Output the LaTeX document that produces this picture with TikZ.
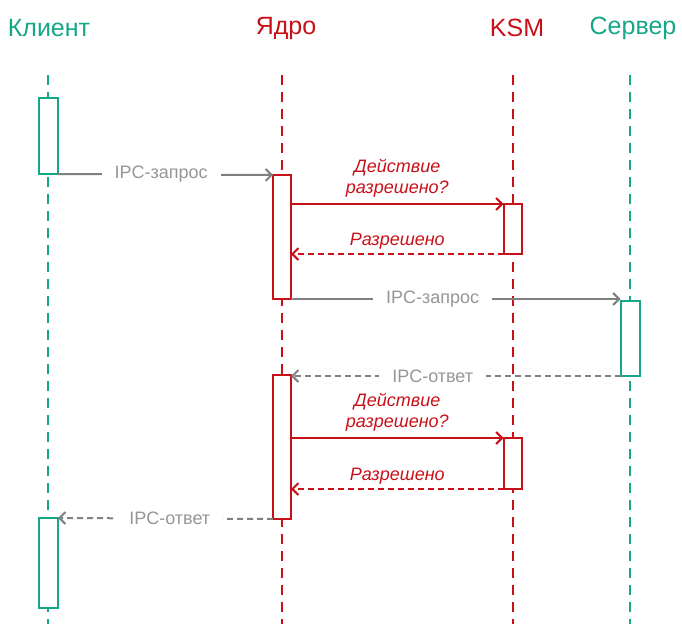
\documentclass[tikz,border=0pt]{standalone}
\usepackage{fontspec}
\setmainfont{Liberation Sans}
\usetikzlibrary{arrows.meta}
\definecolor{kteal}{RGB}{22,166,136}
\definecolor{kred}{RGB}{200,16,24}
\definecolor{kgray}{RGB}{128,128,128}
\definecolor{kltgray}{RGB}{150,150,150}
\begin{document}
\begin{tikzpicture}[x=1pt,y=-1pt,
  head/.style={font=\fontsize{25}{28}\selectfont, inner sep=0pt},
  lifeg/.style={kteal, line width=2pt, dash pattern=on 10pt off 7pt},
  lifer/.style={kred, line width=2pt, dash pattern=on 10pt off 7pt},
  tbox/.style={draw=kteal, fill=white, line width=2pt, minimum width=19pt, inner sep=0pt, outer sep=0pt},
  rbox/.style={draw=kred, fill=white, line width=2pt, minimum width=18pt, inner sep=0pt, outer sep=0pt},
  garrow/.style={kgray, line width=2pt, -{Straight Barb[length=6pt,width=12pt]}},
  gdarrow/.style={garrow, dash pattern=on 6pt off 4pt},
  rarrow/.style={kred, line width=2pt, -{Straight Barb[length=6pt,width=12pt]}},
  rdarrow/.style={rarrow, dash pattern=on 6pt off 4pt},
  glbl/.style={text=kltgray, fill=white, font=\fontsize{18}{20}\selectfont, inner xsep=13pt, inner ysep=2pt},
  rlbl/.style={text=kred, font=\fontsize{18}{21}\selectfont\itshape, align=center, inner sep=0pt},
]
\useasboundingbox (0,0) rectangle (682,624);
% headers
\node[head, text=kteal] (hc) at (49,28) {Клиент};
\node[head, text=kred] (hk) at (286,28) {Ядро};
\node[head, text=kred] (hm) at (517,28) {KSM};
\node[head, text=kteal] (hs) at (633,28) {Сервер};
% lifelines
\coordinate (lc0) at (48,75); \coordinate (lc1) at (48,624);
\coordinate (lk0) at (282,75); \coordinate (lk1) at (282,624);
\coordinate (lm0) at (513,75); \coordinate (lm1) at (513,624);
\coordinate (ls0) at (630,75); \coordinate (ls1) at (630,624);
\draw[lifeg] (lc0) -- (lc1);
\draw[lifer] (lk0) -- (lk1);
\draw[lifer] (lm0) -- (lm1);
\draw[lifeg] (ls0) -- (ls1);
% activation boxes
\node[tbox, minimum height=76pt] (c1) at (48.5,136) {};
\node[rbox, minimum height=124pt] (k1) at (282,237) {};
\node[rbox, minimum height=50pt] (m1) at (512.5,229) {};
\node[tbox, minimum height=75pt] (s1) at (630,338.5) {};
\node[rbox, minimum height=144pt] (k2) at (282,447) {};
\node[rbox, minimum height=51pt] (m2) at (512.5,463.5) {};
\node[tbox, minimum height=90pt] (c2) at (48.5,563) {};
% messages
\draw[garrow] (c1.south east) -- node[glbl, pos=0.48] (l1) {IPC-запрос} (k1.north west);
\draw[rarrow] (k1.east |- m1.north) -- node[rlbl, above=6pt] (l2) {Действие\\разрешено?} (m1.north west);
\draw[rdarrow] (m1.south west) -- node[rlbl, above=4pt] (l3) {Разрешено} (m1.south west -| k1.east);
\draw[garrow] (k1.south east) -- node[glbl, pos=0.43] (l4) {IPC-запрос} (k1.south east -| s1.west);
\draw[gdarrow] (s1.south west) -- node[glbl, pos=0.57] (l5) {IPC-ответ} (s1.south west -| k2.east);
\draw[rarrow] (k2.east |- m2.north) -- node[rlbl, above=6pt] (l6) {Действие\\разрешено?} (m2.north west);
\draw[rdarrow] (m2.south west) -- node[rlbl, above=4pt] (l7) {Разрешено} (m2.south west -| k2.east);
\draw[gdarrow] (k2.south west) -- node[glbl, pos=0.48] (l8) {IPC-ответ} (c2.north east);
\end{tikzpicture}
\end{document}
